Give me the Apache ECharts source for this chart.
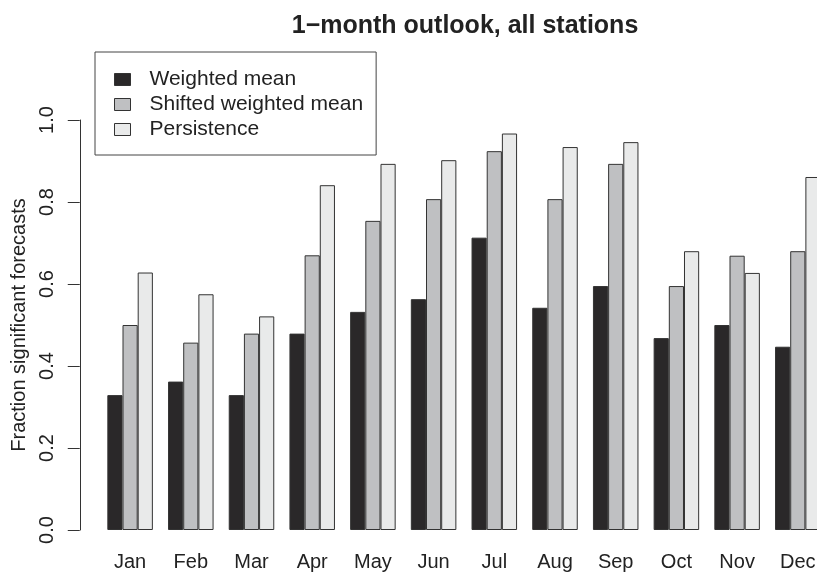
<!DOCTYPE html>
<html lang="en">
<head>
  <meta charset="UTF-8">
  <title>1-month outlook, all stations</title>
  <script src="https://cdn.jsdelivr.net/npm/echarts@6/dist/echarts.min.js"></script>
  <style>
    html, body { margin: 0; padding: 0; background: #fff; }
  </style>
</head>
<body>
  <div id="main" style="width: 817px; height: 573px;"></div>
  <script>
    // data
    var months = ['Jan', 'Feb', 'Mar', 'Apr', 'May', 'Jun', 'Jul', 'Aug', 'Sep', 'Oct', 'Nov', 'Dec'];
    var weightedMean = [0.329, 0.362, 0.329, 0.479, 0.532, 0.563, 0.713, 0.542, 0.595, 0.468, 0.500, 0.447];
    var shiftedMean = [0.500, 0.457, 0.479, 0.670, 0.754, 0.807, 0.924, 0.807, 0.893, 0.595, 0.669, 0.680];
    var persistence = [0.628, 0.575, 0.521, 0.841, 0.893, 0.902, 0.967, 0.934, 0.946, 0.680, 0.627, 0.861];

    var font = 'Liberation Sans, Arial, Helvetica, sans-serif';
    var ink = '#222';

    var myChart = echarts.init(document.getElementById('main'));

    function barSeries(name, values, fill) {
      return {
        name: name,
        type: 'bar',
        data: values,
        barGap: '0%',
        barCategoryGap: '25%',
        itemStyle: { color: fill, borderColor: '#333', borderWidth: 1 },
        emphasis: { disabled: true },
        animation: false
      };
    }

    var option = {
      backgroundColor: '#fff',
      title: {
        text: '1\u2212month outlook, all stations',
        left: 460,
        top: 9,
        textAlign: 'center',
        textStyle: { fontFamily: font, fontSize: 25, fontWeight: 'bold', color: ink }
      },
      legend: {
        orient: 'vertical',
        left: 95,
        top: 52,
        padding: [17, 13, 15, 19],
        itemGap: 4,
        itemWidth: 16,
        itemHeight: 12,
        icon: 'rect',
        borderColor: '#444',
        borderWidth: 1,
        itemStyle: { borderColor: '#333', borderWidth: 1 },
        textStyle: { fontFamily: font, fontSize: 21, color: ink, lineHeight: 21, padding: [0, 0, 0, 14] },
        data: ['Weighted mean', 'Shifted weighted mean', 'Persistence']
      },
      // last group runs past the right edge, as in the original
      grid: { left: 99.75, width: 728.4, top: 120, bottom: 43, containLabel: false, outerBoundsMode: 'none' },
      xAxis: {
        type: 'category',
        data: months,
        axisLine: { show: false },
        axisTick: { show: false },
        axisLabel: { margin: 22, fontFamily: font, fontSize: 20, color: ink, interval: 0, hideOverlap: false }
      },
      yAxis: {
        type: 'value',
        min: 0,
        max: 1,
        interval: 0.2,
        offset: 20,
        name: 'Fraction significant forecasts',
        nameLocation: 'middle',
        nameRotate: 90,
        nameGap: 47.5,
        nameTextStyle: { fontFamily: font, fontSize: 20, color: ink },
        splitLine: { show: false },
        axisLine: { show: true, lineStyle: { color: '#333', width: 1 } },
        axisTick: { show: true, length: 12, lineStyle: { color: '#333', width: 1 } },
        axisLabel: {
          rotate: 90,
          margin: 22.5,
          fontFamily: font,
          fontSize: 20,
          color: ink,
          formatter: function (v) { return v.toFixed(1); }
        }
      },
      series: [
        barSeries('Weighted mean', weightedMean, '#2a2829'),
        barSeries('Shifted weighted mean', shiftedMean, '#bfc0c2'),
        barSeries('Persistence', persistence, '#e9eaea')
      ]
    };

    myChart.setOption(option);
  </script>
</body>
</html>
